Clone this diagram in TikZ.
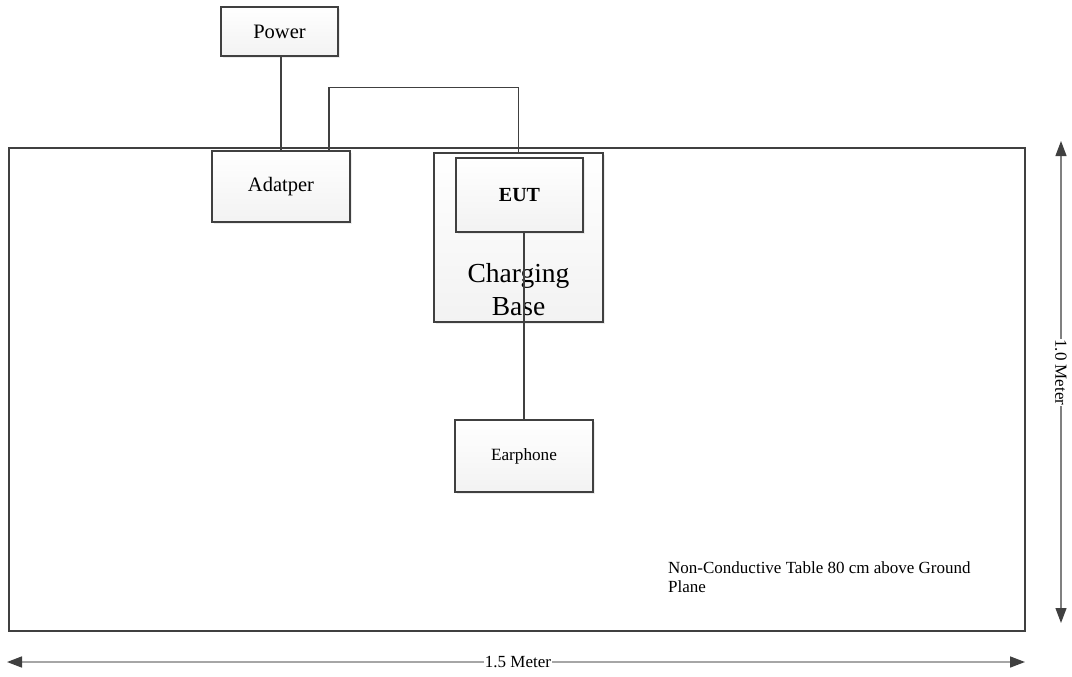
\documentclass[tikz,border=0pt]{standalone}
\usepackage{fontspec}
\setmainfont{Liberation Serif}
\usetikzlibrary{arrows.meta,shadows}
\definecolor{edge}{HTML}{404040}
\definecolor{dimline}{HTML}{A6A6A6}
\tikzset{
  blk/.style={draw=edge, line width=1.4pt, top color=white, bottom color=gray!10,
    drop shadow={shadow xshift=2pt, shadow yshift=-2pt, fill=gray!25, opacity=0.6},
    inner sep=0pt, align=center},
  wire/.style={draw=edge, line width=1.1pt},
  dim/.style={draw=dimline, line width=1.6pt,
    {Triangle[length=15pt,width=11pt,color=edge]}-{Triangle[length=15pt,width=11pt,color=edge]}},
  dimlabel/.style={fill=white, inner sep=0.6pt, font=\fontsize{17}{20}\selectfont}
}
\begin{document}
\begin{tikzpicture}[x=1pt,y=-1pt]
\useasboundingbox (0,0) rectangle (1072,677);
% table
\node[draw=edge, line width=2.4pt, minimum width=1016pt, minimum height=483pt, inner sep=0pt] (table) at (517,389.5) {};
\node[anchor=north west, align=left, inner sep=0pt, font=\fontsize{17}{19.5}\selectfont] (tabletext) at (668,561.5)
  {Non-Conductive Table 80 cm above Ground\\Plane};
% boxes
\node[blk, minimum width=117pt, minimum height=49pt, font=\fontsize{20.5}{24}\selectfont] (power) at (279.5,31.5) {Power};
\node[blk, minimum width=138pt, minimum height=71pt, font=\fontsize{20.5}{24}\selectfont] (adapter) at (281,186.5) {Adatper};
\node[blk, minimum width=169pt, minimum height=169pt] (base) at (518.5,237.5) {};
\node[align=center, inner sep=0pt, font=\fontsize{27.5}{33}\selectfont] (basetext) at (518.5,290) {Charging\\Base};
\node[blk, minimum width=127pt, minimum height=74pt, font=\bfseries\fontsize{20}{24}\selectfont] (eut) at (519.5,195) {EUT};
\node[blk, minimum width=138pt, minimum height=72pt, font=\fontsize{17.2}{20}\selectfont] (earphone) at (524,456) {Earphone};
% connectors
\draw[wire] (power.south -| adapter.north) -- (adapter.north);
\draw[wire] ([xshift=48pt]adapter.north) -- ++(0,-63) -| (base.north);
\draw[wire] (eut.south -| earphone.north) -- (earphone.north);
% dimensions
\coordinate (v1) at (1061,141);
\coordinate (v2) at (1061,623);
\coordinate (h1) at (7,662);
\coordinate (h2) at (1025,662);
\draw[dim] (h1) -- (h2) node[dimlabel, pos=0.502] (hlabel) {1.5 Meter};
\draw[dim, line width=1.2pt, draw=gray] (v1) -- (v2) node[dimlabel, pos=0.48, rotate=-90] (vlabel) {1.0 Meter};
\end{tikzpicture}
\end{document}
